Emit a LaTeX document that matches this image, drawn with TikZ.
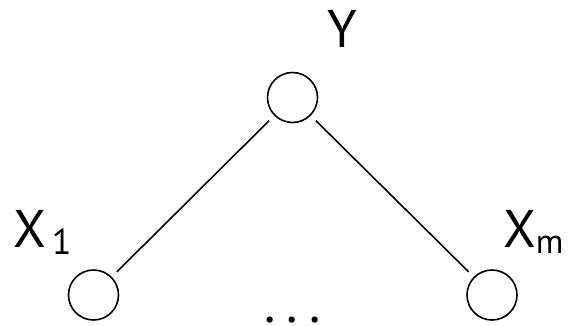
\documentclass[tikz,border=0pt]{standalone}
\usepackage{fontspec}
\setmainfont{PT Sans}
\begin{document}
\begin{tikzpicture}[x=1pt,y=-1pt,
  vertex/.style={circle,draw,line width=1.6pt,minimum size=50pt,inner sep=0pt,outer sep=8pt},
  lbl/.style={inner sep=0pt,anchor=base west,font=\fontsize{53}{60}\selectfont},
  edge/.style={line width=1.6pt}]
\useasboundingbox (0,0) rectangle (576,325);
\node[vertex] (y) at (292.5,97.5) {};
\node[vertex] (x1) at (93.5,295) {};
\node[vertex] (xm) at (492,295) {};
\draw[edge] (y) -- (x1);
\draw[edge] (y) -- (xm);
\node[lbl] (ly) at (327,47) {Y};
\node[lbl] (lx1) at (13,247) {X\hspace{6pt}\raisebox{-7pt}{\fontsize{36}{40}\selectfont 1}};
\node[lbl] (lxm) at (503,247) {X\raisebox{-6pt}{\fontsize{34}{40}\selectfont m}};
\node[lbl,anchor=base] (dots) at (292.5,322) {.\hspace{11pt}.\hspace{11pt}.};
\end{tikzpicture}
\end{document}
